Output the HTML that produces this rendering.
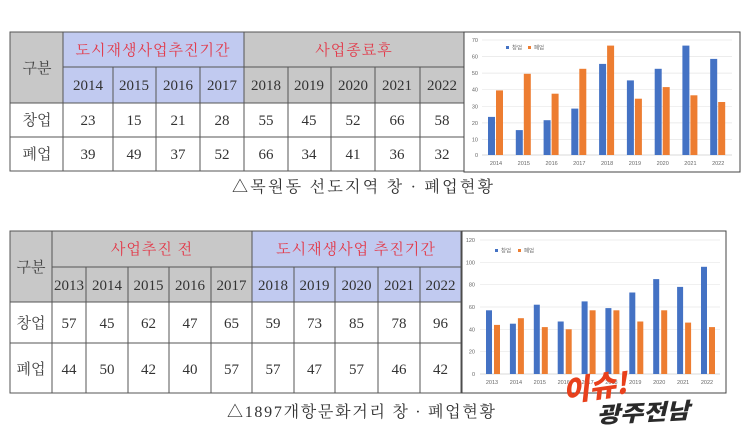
<!DOCTYPE html>
<html><head><meta charset="utf-8"><style>
html,body{margin:0;padding:0;background:#fff;width:750px;height:440px;overflow:hidden}
svg{display:block}
.n{font-family:"Liberation Serif",serif;font-size:15px;fill:#333;text-anchor:middle}
.h{font-family:"Noto Serif CJK SC","Noto Sans CJK KR",serif;font-size:15px;fill:#444;text-anchor:middle}
.c{font-family:"Liberation Serif","Noto Serif CJK SC","Noto Sans CJK KR",serif;font-size:16px;fill:#333}
.r{font-family:"Noto Serif CJK SC","Noto Sans CJK KR",serif;font-size:15px;fill:#e23a4a;text-anchor:middle;letter-spacing:1px}
.t{font-family:"Liberation Sans",sans-serif;font-size:5.5px;fill:#666;text-anchor:middle}
.ty{font-family:"Liberation Sans",sans-serif;font-size:5.5px;fill:#666;text-anchor:end}
.g{stroke:#e6e6e6;stroke-width:0.7}
.b{fill:#4472c4}.o{fill:#ed7d31}
</style></head><body>
<svg width="750" height="440" viewBox="0 0 750 440" xmlns="http://www.w3.org/2000/svg">
<!-- TABLE 1 -->
<rect x="10" y="32" width="53" height="71" fill="#c8c8c8"/>
<rect x="63" y="32" width="181" height="71" fill="#c1caf0"/>
<rect x="244" y="32" width="220" height="71" fill="#c8c8c8"/>
<g stroke="#555" stroke-width="1" fill="none">
<rect x="10" y="32" width="454" height="139"/>
<line x1="63" y1="67" x2="464" y2="67"/>
<line x1="10" y1="103" x2="464" y2="103"/>
<line x1="10" y1="137" x2="464" y2="137"/>
<line x1="63" y1="32" x2="63" y2="171"/>
<line x1="244" y1="32" x2="244" y2="171"/>
<line x1="113" y1="67" x2="113" y2="171"/><line x1="156" y1="67" x2="156" y2="171"/><line x1="200" y1="67" x2="200" y2="171"/>
<line x1="288" y1="67" x2="288" y2="171"/><line x1="331" y1="67" x2="331" y2="171"/><line x1="375" y1="67" x2="375" y2="171"/><line x1="420" y1="67" x2="420" y2="171"/>
</g>
<text class="h" x="37" y="73">구분</text>
<text class="r" x="153" y="55">도시재생사업추진기간</text>
<text class="r" x="354" y="55">사업종료후</text>
<g class="n"><text x="88" y="90">2014</text><text x="134" y="90">2015</text><text x="178" y="90">2016</text><text x="222" y="90">2017</text><text x="266" y="90">2018</text><text x="309" y="90">2019</text><text x="353" y="90">2020</text><text x="397" y="90">2021</text><text x="442" y="90">2022</text></g>
<text class="h" x="37" y="125">창업</text>
<g class="n"><text x="88" y="125">23</text><text x="134" y="125">15</text><text x="178" y="125">21</text><text x="222" y="125">28</text><text x="266" y="125">55</text><text x="309" y="125">45</text><text x="353" y="125">52</text><text x="397" y="125">66</text><text x="442" y="125">58</text></g>
<text class="h" x="37" y="159">폐업</text>
<g class="n"><text x="88" y="159">39</text><text x="134" y="159">49</text><text x="178" y="159">37</text><text x="222" y="159">52</text><text x="266" y="159">66</text><text x="309" y="159">34</text><text x="353" y="159">41</text><text x="397" y="159">36</text><text x="442" y="159">32</text></g>
<text class="c" x="232" y="192" textLength="261" lengthAdjust="spacing">△목원동  선도지역  창 · 폐업현황</text>

<!-- CHART 1 -->
<rect x="464" y="32" width="276" height="140" fill="#fff" stroke="#444" stroke-width="1"/>
<g class="g">
<line x1="482" y1="40" x2="732" y2="40"/><line x1="482" y1="56.6" x2="732" y2="56.6"/><line x1="482" y1="73.1" x2="732" y2="73.1"/><line x1="482" y1="89.7" x2="732" y2="89.7"/><line x1="482" y1="106.3" x2="732" y2="106.3"/><line x1="482" y1="122.9" x2="732" y2="122.9"/><line x1="482" y1="139.4" x2="732" y2="139.4"/><line x1="482" y1="155" x2="732" y2="155" stroke="#ccc"/>
</g>
<g class="ty"><text x="478" y="42">70</text><text x="478" y="58.6">60</text><text x="478" y="75.1">50</text><text x="478" y="91.7">40</text><text x="478" y="108.3">30</text><text x="478" y="124.9">20</text><text x="478" y="141.4">10</text><text x="478" y="157">0</text></g>
<rect class="b" x="506" y="46" width="3" height="3"/><text class="t" x="517" y="49.5">창업</text>
<rect class="o" x="528" y="46" width="3" height="3"/><text class="t" x="539" y="49.5">폐업</text>
<g>
<rect class="b" x="488" y="116.9" width="7" height="38.1"/><rect class="o" x="496" y="90.4" width="7" height="64.6"/>
<rect class="b" x="515.8" y="130.1" width="7" height="24.9"/><rect class="o" x="523.8" y="73.8" width="7" height="81.2"/>
<rect class="b" x="543.6" y="120.2" width="7" height="34.8"/><rect class="o" x="551.6" y="93.7" width="7" height="61.3"/>
<rect class="b" x="571.3" y="108.6" width="7" height="46.4"/><rect class="o" x="579.3" y="68.8" width="7" height="86.2"/>
<rect class="b" x="599.1" y="63.9" width="7" height="91.1"/><rect class="o" x="607.1" y="45.6" width="7" height="109.4"/>
<rect class="b" x="626.9" y="80.4" width="7" height="74.6"/><rect class="o" x="634.9" y="98.7" width="7" height="56.3"/>
<rect class="b" x="654.7" y="68.8" width="7" height="86.2"/><rect class="o" x="662.7" y="87.1" width="7" height="67.9"/>
<rect class="b" x="682.4" y="45.6" width="7" height="109.4"/><rect class="o" x="690.4" y="95.3" width="7" height="59.7"/>
<rect class="b" x="710.2" y="58.9" width="7" height="96.1"/><rect class="o" x="718.2" y="102" width="7" height="53"/>
</g>
<g class="t"><text x="496" y="165">2014</text><text x="523.8" y="165">2015</text><text x="551.6" y="165">2016</text><text x="579.3" y="165">2017</text><text x="607.1" y="165">2018</text><text x="634.9" y="165">2019</text><text x="662.7" y="165">2020</text><text x="690.4" y="165">2021</text><text x="718.2" y="165">2022</text></g>

<!-- TABLE 2 -->
<rect x="10" y="231" width="242" height="71" fill="#c8c8c8"/>
<rect x="252" y="231" width="209" height="71" fill="#c1caf0"/>
<g stroke="#555" stroke-width="1" fill="none">
<rect x="10" y="231" width="451" height="162"/>
<line x1="52" y1="267" x2="461" y2="267"/>
<line x1="10" y1="302" x2="461" y2="302"/>
<line x1="10" y1="343" x2="461" y2="343"/>
<line x1="52" y1="231" x2="52" y2="393"/>
<line x1="252" y1="231" x2="252" y2="393"/>
<line x1="86" y1="267" x2="86" y2="393"/><line x1="128" y1="267" x2="128" y2="393"/><line x1="169" y1="267" x2="169" y2="393"/><line x1="211" y1="267" x2="211" y2="393"/>
<line x1="294" y1="267" x2="294" y2="393"/><line x1="335" y1="267" x2="335" y2="393"/><line x1="378" y1="267" x2="378" y2="393"/><line x1="420" y1="267" x2="420" y2="393"/>
</g>
<text class="h" x="31" y="272">구분</text>
<text class="r" x="152" y="254">사업추진 전</text>
<text class="r" x="356" y="254">도시재생사업 추진기간</text>
<g class="n"><text x="69" y="290">2013</text><text x="107" y="290">2014</text><text x="148.5" y="290">2015</text><text x="190" y="290">2016</text><text x="231.5" y="290">2017</text><text x="273" y="290">2018</text><text x="314.5" y="290">2019</text><text x="356.5" y="290">2020</text><text x="399" y="290">2021</text><text x="440.5" y="290">2022</text></g>
<text class="h" x="31" y="328">창업</text>
<g class="n"><text x="69" y="328">57</text><text x="107" y="328">45</text><text x="148.5" y="328">62</text><text x="190" y="328">47</text><text x="231.5" y="328">65</text><text x="273" y="328">59</text><text x="314.5" y="328">73</text><text x="356.5" y="328">85</text><text x="399" y="328">78</text><text x="440.5" y="328">96</text></g>
<text class="h" x="31" y="374">폐업</text>
<g class="n"><text x="69" y="374">44</text><text x="107" y="374">50</text><text x="148.5" y="374">42</text><text x="190" y="374">40</text><text x="231.5" y="374">57</text><text x="273" y="374">57</text><text x="314.5" y="374">47</text><text x="356.5" y="374">57</text><text x="399" y="374">46</text><text x="440.5" y="374">42</text></g>
<text class="c" x="227" y="417" textLength="268" lengthAdjust="spacing">△1897개항문화거리  창 · 폐업현황</text>

<!-- CHART 2 -->
<rect x="462" y="231" width="264" height="162" fill="#fff" stroke="#444" stroke-width="1"/>
<g class="g">
<line x1="480" y1="240" x2="720" y2="240"/><line x1="480" y1="262.3" x2="720" y2="262.3"/><line x1="480" y1="284.7" x2="720" y2="284.7"/><line x1="480" y1="307" x2="720" y2="307"/><line x1="480" y1="329.3" x2="720" y2="329.3"/><line x1="480" y1="351.7" x2="720" y2="351.7"/><line x1="480" y1="374" x2="720" y2="374" stroke="#ccc"/>
</g>
<g class="ty"><text x="475" y="242">120</text><text x="475" y="264.3">100</text><text x="475" y="286.7">80</text><text x="475" y="309">60</text><text x="475" y="331.3">40</text><text x="475" y="353.7">20</text><text x="475" y="376">0</text></g>
<rect class="b" x="495" y="249" width="3" height="3"/><text class="t" x="506" y="252.5">창업</text>
<rect class="o" x="518" y="249" width="3" height="3"/><text class="t" x="529" y="252.5">폐업</text>
<g>
<rect class="b" x="486" y="310.3" width="6" height="63.7"/><rect class="o" x="494" y="324.9" width="6" height="49.1"/>
<rect class="b" x="509.9" y="323.7" width="6" height="50.3"/><rect class="o" x="517.9" y="318.2" width="6" height="55.8"/>
<rect class="b" x="533.8" y="304.7" width="6" height="69.3"/><rect class="o" x="541.8" y="327.1" width="6" height="46.9"/>
<rect class="b" x="557.7" y="321.5" width="6" height="52.5"/><rect class="o" x="565.7" y="329.3" width="6" height="44.7"/>
<rect class="b" x="581.6" y="301.4" width="6" height="72.6"/><rect class="o" x="589.6" y="310.3" width="6" height="63.7"/>
<rect class="b" x="605.4" y="308.1" width="6" height="65.9"/><rect class="o" x="613.4" y="310.3" width="6" height="63.7"/>
<rect class="b" x="629.3" y="292.5" width="6" height="81.5"/><rect class="o" x="637.3" y="321.5" width="6" height="52.5"/>
<rect class="b" x="653.2" y="279.1" width="6" height="94.9"/><rect class="o" x="661.2" y="310.3" width="6" height="63.7"/>
<rect class="b" x="677.1" y="286.9" width="6" height="87.1"/><rect class="o" x="685.1" y="322.6" width="6" height="51.4"/>
<rect class="b" x="701" y="266.8" width="6" height="107.2"/><rect class="o" x="709" y="327.1" width="6" height="46.9"/>
</g>
<g class="t"><text x="492" y="384">2013</text><text x="515.9" y="384">2014</text><text x="539.8" y="384">2015</text><text x="563.7" y="384">2016</text><text x="587.6" y="384">2017</text><text x="611.4" y="384">2018</text><text x="635.3" y="384">2019</text><text x="659.2" y="384">2020</text><text x="683.1" y="384">2021</text><text x="707" y="384">2022</text></g>

<!-- LOGO -->
<text x="564" y="402" transform="rotate(-8 564 402)" style="font-family:'Noto Sans CJK KR',sans-serif;font-weight:900;font-size:29px;fill:#e8401c;font-style:italic">이슈!</text>
<text x="597" y="423" transform="rotate(-3 597 423)" textLength="93" lengthAdjust="spacingAndGlyphs" style="font-family:'Noto Sans CJK KR',sans-serif;font-weight:900;font-size:22px;fill:#2a2a2a;font-style:italic">광주전남</text>
</svg>
</body></html>
